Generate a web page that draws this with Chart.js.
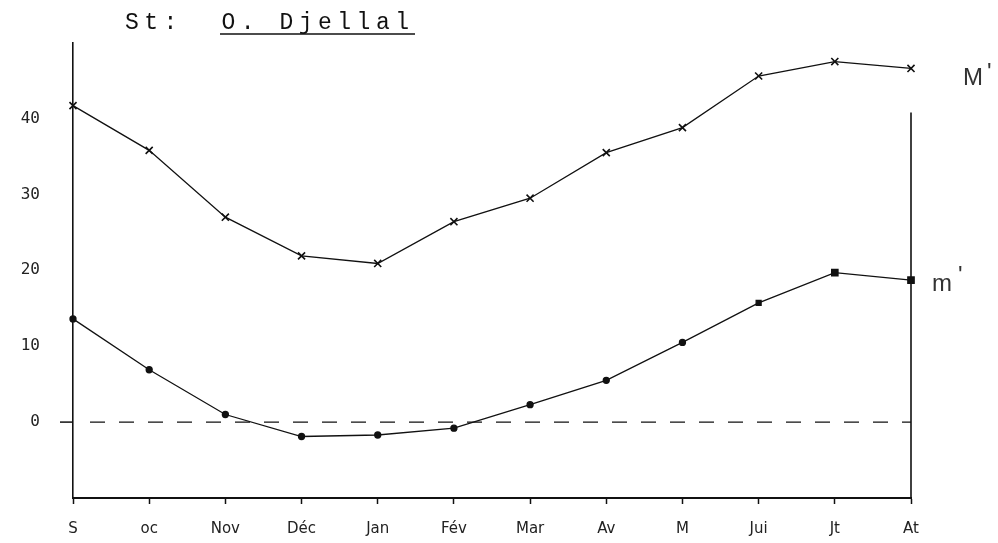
<!DOCTYPE html>
<html>
<head>
<meta charset="utf-8">
<script src="https://cdn.jsdelivr.net/npm/chart.js@4/dist/chart.umd.min.js"></script>
<style>
  body { margin: 0; background: #fff; }
  #wrap { width: 998px; height: 543px; position: relative; }
</style>
</head>
<body>
<div id="wrap"><canvas id="c"></canvas></div>
<script>
// months (as written on the sheet)
var months = ['S', 'oc', 'Nov', 'Déc', 'Jan', 'Fév', 'Mar', 'Av', 'M', 'Jui', 'Jt', 'At'];
// M' : mean of maxima
var maxTemp = [41.7, 35.8, 27.0, 21.9, 20.9, 26.4, 29.5, 35.5, 38.8, 45.6, 47.5, 46.6];
// m' : mean of minima
var minTemp = [13.6, 6.9, 1.0, -1.9, -1.7, -0.8, 2.3, 5.5, 10.5, 15.7, 19.7, 18.7];
var yTicks = [0, 10, 20, 30, 40];
var title = 'St:  O. Djellal';

var ink = '#111';

var extras = {
    id: 'extras',
    beforeDatasetsDraw(chart) {
        var ctx = chart.ctx;
        var x = chart.scales.x, y = chart.scales.y;
        var area = chart.chartArea;
        ctx.save();
        // dashed zero line
        ctx.strokeStyle = ink;
        ctx.lineWidth = 1.3;
        ctx.setLineDash([15, 14]);
        ctx.beginPath();
        ctx.moveTo(area.left + 17, y.getPixelForValue(0));
        ctx.lineTo(area.right, y.getPixelForValue(0));
        ctx.stroke();
        ctx.setLineDash([]);
        // small tick at 0 left of the axis
        ctx.lineWidth = 1.5;
        ctx.beginPath();
        ctx.moveTo(area.left - 13, y.getPixelForValue(0));
        ctx.lineTo(area.left, y.getPixelForValue(0));
        ctx.stroke();
        // right hand vertical axis
        var xr = x.getPixelForValue(months.length - 1);
        ctx.lineWidth = 1.6;
        ctx.beginPath();
        ctx.moveTo(xr, y.getPixelForValue(40.8));
        ctx.lineTo(xr, area.bottom);
        ctx.stroke();
        ctx.restore();
    },
    afterDraw(chart) {
        var ctx = chart.ctx;
        var x = chart.scales.x, y = chart.scales.y;
        ctx.save();
        // title, typewriter style
        ctx.fillStyle = ink;
        ctx.font = '23px "Liberation Mono"';
        ctx.textBaseline = 'alphabetic';
        for (var i = 0; i < title.length; i++) {
            ctx.fillText(title[i], 125 + i * 19.3, 29);
        }
        ctx.strokeStyle = ink;
        ctx.lineWidth = 1.5;
        ctx.beginPath();
        ctx.moveTo(220, 34);
        ctx.lineTo(415, 34);
        ctx.stroke();
        // series names
        var xr = x.getPixelForValue(months.length - 1);
        ctx.fillStyle = '#333';
        ctx.font = '24px "Liberation Sans"';
        ctx.textBaseline = 'middle';
        ctx.fillText("M", xr + 52, y.getPixelForValue(45.3));
        ctx.fillText("'", xr + 76, y.getPixelForValue(46.0));
        ctx.fillText("m", xr + 21, y.getPixelForValue(18.2));
        ctx.fillText("'", xr + 47, y.getPixelForValue(19.2));
        ctx.restore();
    }
};

new Chart(document.getElementById('c'), {
    type: 'line',
    data: {
        labels: months,
        datasets: [
            {
                label: "M'",
                data: maxTemp,
                borderColor: ink,
                borderWidth: 1.3,
                pointStyle: 'crossRot',
                pointRadius: 5,
                pointBorderWidth: 1.6,
                pointBorderColor: ink,
                tension: 0
            },
            {
                label: "m'",
                data: minTemp,
                borderColor: ink,
                borderWidth: 1.3,
                pointStyle: ['circle', 'circle', 'circle', 'circle', 'circle', 'circle', 'circle', 'circle', 'circle', 'rect', 'rect', 'rect'],
                pointRadius: [3, 3, 3, 3, 3, 3, 3, 3, 3, 3.5, 4.5, 4.5],
                pointBackgroundColor: ink,
                pointBorderColor: ink,
                tension: 0
            }
        ]
    },
    options: {
        responsive: true,
        maintainAspectRatio: false,
        animation: false,
        layout: { padding: { top: 36, right: 87, bottom: 0, left: 0 } },
        plugins: {
            legend: { display: false },
            tooltip: { enabled: false }
        },
        scales: {
            x: {
                type: 'category',
                offset: false,
                afterFit: function (scale) { scale.height = 45; },
                grid: {
                    display: true,
                    drawOnChartArea: false,
                    drawTicks: true,
                    tickLength: 6,
                    tickWidth: 1.5,
                    tickColor: ink
                },
                border: { display: true, color: ink, width: 2 },
                ticks: {
                    autoSkip: false,
                    maxRotation: 0,
                    padding: 16,
                    color: '#222',
                    font: { family: 'DejaVu Sans', size: 15 }
                }
            },
            y: {
                min: -10,
                max: 50,
                afterFit: function (scale) { scale.width = 73; },
                afterBuildTicks: function (scale) {
                    scale.ticks = yTicks.map(function (v) { return { value: v }; });
                },
                grid: { display: false, drawTicks: false },
                border: { display: true, color: ink, width: 1.6 },
                ticks: {
                    padding: 33,
                    color: '#222',
                    font: { family: 'DejaVu Sans Mono', size: 16 }
                }
            }
        }
    },
    plugins: [extras]
});
</script>
</body>
</html>
